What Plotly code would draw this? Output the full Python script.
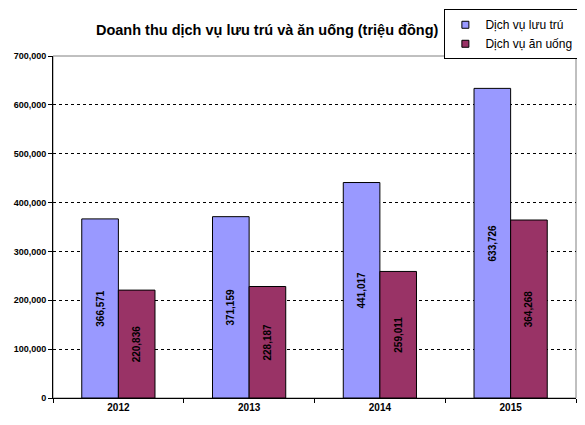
import plotly.graph_objects as go

years = ["2012", "2013", "2014", "2015"]
luu_tru = [366571, 371159, 441017, 633726]
an_uong = [220836, 228187, 259011, 364268]
series_names = ["Dịch vụ lưu trú", "Dịch vụ ăn uống"]
colors = ["#9999FF", "#993366"]
y_ticks = [0, 100000, 200000, 300000, 400000, 500000, 600000, 700000]
y_tick_labels = ["0", "100,000", "200,000", "300,000", "400,000", "500,000", "600,000", "700,000"]

FONT = "Arial, Liberation Sans, sans-serif"

fig = go.Figure()
for name, vals, color in zip(series_names, [luu_tru, an_uong], colors):
    fig.add_trace(go.Bar(
        x=years, y=vals, name=name, showlegend=False,
        marker=dict(color=color, line=dict(color="#000000", width=1)),
        text=[f"<b>{v:,}</b>" for v in vals],
        textposition="inside", insidetextanchor="middle", textangle=-90,
        textfont=dict(family=FONT, size=10, color="#000000"),
        constraintext="none",
    ))
# legend entries with small square swatches
for name, color in zip(series_names, colors):
    fig.add_trace(go.Scatter(
        x=[None], y=[None], mode="markers", name=name,
        marker=dict(symbol="square", size=7, color=color, line=dict(color="#000000", width=1)),
    ))

fig.update_layout(
    width=585, height=425,
    margin=dict(l=45, r=17, t=48, b=35, autoexpand=False),
    paper_bgcolor="white", plot_bgcolor="white",
    barmode="group", bargap=0.44, bargroupgap=0,
    title=dict(text="<b>Doanh thu dịch vụ lưu trú và ăn uống (triệu đồng)</b>",
               x=0.443, xanchor="center", y=0.948, yanchor="middle",
               font=dict(family=FONT, size=14.5, color="#000000")),
    legend=dict(xref="container", yref="container", x=0.975, xanchor="right", y=0.997, yanchor="top",
                bordercolor="#000000", borderwidth=1, bgcolor="white",
                font=dict(family=FONT, size=12, color="#000000"),
                itemwidth=30, tracegroupgap=0),
    font=dict(family=FONT, color="#000000"),
    uniformtext=dict(minsize=8, mode="show"),
)
fig.update_xaxes(
    automargin=False,
    showline=True, linecolor="#000000", linewidth=1, mirror=False,
    ticks="outside", tickson="boundaries", ticklen=4, tickcolor="#000000",
    tickfont=dict(family=FONT, size=10, color="#000000"),
    tickprefix="<b>", ticksuffix="</b>",
)
fig.update_yaxes(
    automargin=False,
    range=[0, 700000], tickvals=y_ticks, ticktext=[f"<b>{t}</b>" for t in y_tick_labels],
    showline=True, linecolor="#000000", linewidth=1,
    ticks="outside", ticklen=4, tickcolor="#000000",
    tickfont=dict(family=FONT, size=9, color="#000000"),
    showgrid=True, gridcolor="#000000", griddash="3px,3px", gridwidth=1,
    zeroline=False,
)
fig.add_shape(type="rect", xref="paper", yref="paper", x0=0, y0=0, x1=1, y1=1,
              line=dict(color="#808080", width=1), layer="below")
fig.write_html("out.html")
